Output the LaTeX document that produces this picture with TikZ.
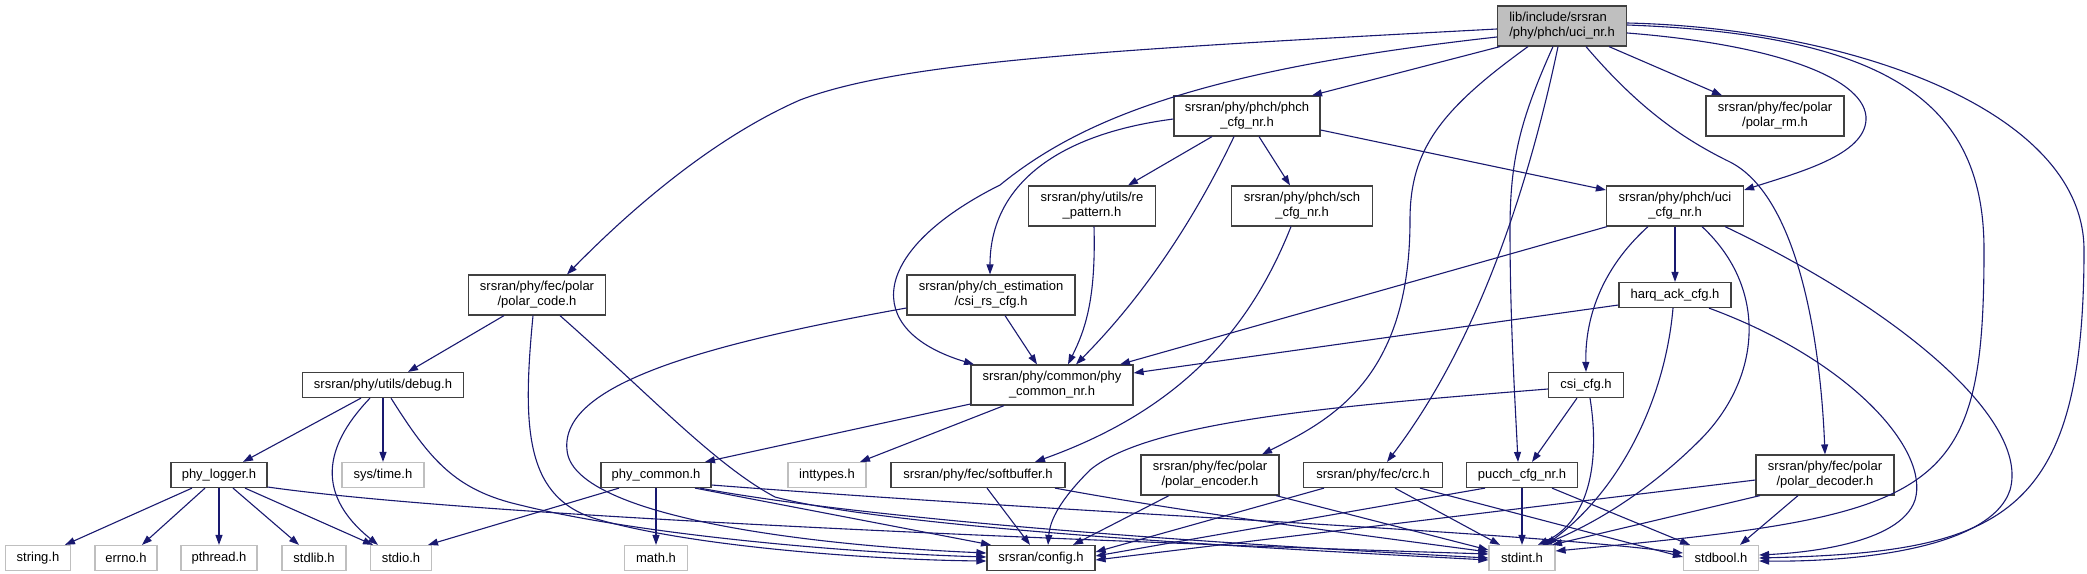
\documentclass[tikz,border=0pt]{standalone}
\usepackage{fontspec}
\setmainfont{Liberation Sans}
\usetikzlibrary{arrows.meta}
\definecolor{edgec}{HTML}{191970}
\definecolor{boxc}{HTML}{404040}
\definecolor{sysc}{HTML}{BFBFBF}
\definecolor{rootfill}{HTML}{BFBFBF}
\begin{document}
\begin{tikzpicture}[x=1pt,y=-1pt,
  every node/.style={font=\fontsize{13}{15}\selectfont, inner sep=0pt, align=center},
  hdr/.style={draw=boxc, line width=1.2pt, fill=white, minimum height=25pt},
  hdr2/.style={hdr, minimum height=40pt},
  sys/.style={draw=sysc, line width=1.2pt, fill=white, minimum height=25pt},
  root/.style={hdr2, fill=rootfill, align=left},
  dep/.style={draw=edgec, line width=1.1pt, -{Triangle[length=10pt,width=7pt]}}
]
\useasboundingbox (0,0) rectangle (2087,573);
\fill[white] (0,0) rectangle (2087,573);

% nodes
\node[root, minimum width=129pt] (uci) at (1562,26) {lib/include/srsran\\/phy/phch/uci\_nr.h};
\node[hdr2, minimum width=146pt] (phch) at (1247,116) {srsran/phy/phch/phch\\\_cfg\_nr.h};
\node[hdr2, minimum width=138pt] (prm) at (1775,116) {srsran/phy/fec/polar\\/polar\_rm.h};
\node[hdr2, minimum width=127pt] (re) at (1092,206) {srsran/phy/utils/re\\\_pattern.h};
\node[hdr2, minimum width=141pt] (sch) at (1302,206) {srsran/phy/phch/sch\\\_cfg\_nr.h};
\node[hdr2, minimum width=137pt] (ucicfg) at (1675,206) {srsran/phy/phch/uci\\\_cfg\_nr.h};
\node[hdr2, minimum width=137pt] (pcode) at (537,295) {srsran/phy/fec/polar\\/polar\_code.h};
\node[hdr2, minimum width=168pt] (csirs) at (991,295) {srsran/phy/ch\_estimation\\/csi\_rs\_cfg.h};
\node[hdr, minimum width=112pt] (harq) at (1675,295) {harq\_ack\_cfg.h};
\node[hdr2, minimum width=162pt] (pcnr) at (1052,385) {srsran/phy/common/phy\\\_common\_nr.h};
\node[hdr, minimum width=161pt] (debug) at (383,385) {srsran/phy/utils/debug.h};
\node[hdr, minimum width=75pt] (csicfg) at (1586,385) {csi\_cfg.h};
\node[hdr, minimum width=96pt] (logger) at (219,475) {phy\_logger.h};
\node[sys, minimum width=82pt] (systime) at (383,475) {sys/time.h};
\node[hdr, minimum width=110pt] (pcom) at (656,475) {phy\_common.h};
\node[sys, minimum width=78pt] (inttypes) at (827,475) {inttypes.h};
\node[hdr, minimum width=174pt] (softbuf) at (978,475) {srsran/phy/fec/softbuffer.h};
\node[hdr2, minimum width=138pt] (penc) at (1210,475) {srsran/phy/fec/polar\\/polar\_encoder.h};
\node[hdr, minimum width=139pt] (crc) at (1373,475) {srsran/phy/fec/crc.h};
\node[hdr, minimum width=111pt] (pucch) at (1522,475) {pucch\_cfg\_nr.h};
\node[hdr2, minimum width=138pt] (pdec) at (1825,475) {srsran/phy/fec/polar\\/polar\_decoder.h};
\node[sys, minimum width=65pt] (stringh) at (38,558) {string.h};
\node[sys, minimum width=62pt] (errnoh) at (126,558) {errno.h};
\node[sys, minimum width=76pt] (pthreadh) at (219,558) {pthread.h};
\node[sys, minimum width=64pt] (stdlibh) at (314,558) {stdlib.h};
\node[sys, minimum width=61pt] (stdio) at (401,558) {stdio.h};
\node[sys, minimum width=63pt] (mathh) at (656,558) {math.h};
\node[hdr, minimum width=108pt] (config) at (1041,558) {srsran/config.h};
\node[sys, minimum width=66pt] (stdint) at (1522,558) {stdint.h};
\node[sys, minimum width=75pt] (stdbool) at (1721,558) {stdbool.h};

% uci_nr.h
\draw[dep] ([xshift=-62]uci.south) -- ([xshift=65]phch.north);
\draw[dep] ([yshift=-3]uci.west) .. controls (1100,50) and (900,62) .. (800,100) .. controls (720,135) and (640,200) .. ([xshift=30]pcode.north);
\draw[dep] ([yshift=-11]uci.west) .. controls (1200,70) and (1080,120) .. (1000,185) .. controls (870,250) and (860,330) .. ([xshift=-78]pcnr.north);
\draw[dep] ([xshift=47]uci.south) -- ([xshift=-53]prm.north);
\draw[dep] ([yshift=-7]uci.east) .. controls (1780,45) and (1868,80) .. (1866,120) .. controls (1864,155) and (1800,172) .. ([yshift=16]ucicfg.east);
\draw[dep] ([xshift=24]uci.south) .. controls (1640,110) and (1685,140) .. (1730,162) .. controls (1795,195) and (1820,330) .. (pdec.north);
\draw[dep] ([xshift=-34]uci.south) .. controls (1440,110) and (1410,150) .. (1410,220) .. controls (1410,380) and (1330,420) .. ([xshift=52]penc.north);
\draw[dep] ([xshift=-9]uci.south) .. controls (1520,120) and (1510,160) .. (1510,230) .. controls (1510,320) and (1515,400) .. ([xshift=-4]pucch.north);
\draw[dep] ([xshift=-4]uci.south) .. controls (1530,180) and (1480,340) .. ([xshift=14]crc.north);
\draw[dep] ([yshift=1]uci.east) .. controls (1900,35) and (1984,110) .. (1984,250) .. controls (1984,500) and (1940,515) .. ([yshift=7]stdint.east);
\draw[dep] ([yshift=3]uci.east) .. controls (1850,28) and (2084,110) .. (2084,250) .. controls (2084,520) and (2000,552) .. (stdbool.east);

% phch_cfg_nr.h
\draw[dep] ([xshift=-35]phch.south) -- ([xshift=36]re.north);
\draw[dep] ([xshift=12]phch.south) -- ([xshift=-12]sch.north);
\draw[dep] ([yshift=-3]phch.west) .. controls (1050,135) and (990,190) .. ([xshift=-1]csirs.north);
\draw[dep] ([xshift=-13]phch.south) .. controls (1180,250) and (1120,320) .. ([xshift=24]pcnr.north);
\draw[dep] ([yshift=-14]phch.east) -- ([yshift=16]ucicfg.west);

% re_pattern.h, sch_cfg_nr.h
\draw[dep] ([xshift=2]re.south) .. controls (1096,300) and (1085,330) .. ([xshift=16]pcnr.north);
\draw[dep] ([xshift=-11]sch.south) .. controls (1250,330) and (1180,410) .. ([xshift=57]softbuf.north);

% csi_rs_cfg.h
\draw[dep] ([xshift=14]csirs.south) -- ([xshift=-15]pcnr.north);
\draw[dep] ([yshift=-13]csirs.west) .. controls (700,345) and (560,385) .. (567,450) .. controls (572,515) and (800,545) .. ([yshift=5]config.west);

% polar_code.h
\draw[dep] ([xshift=-33]pcode.south) -- ([xshift=25]debug.north);
\draw[dep] ([xshift=-4]pcode.south) .. controls (522,430) and (525,500) .. (600,520) .. controls (700,548) and (880,560) .. ([yshift=-3]config.west);
\draw[dep] ([xshift=23]pcode.south) .. controls (650,395) and (715,465) .. (775,497) .. controls (900,530) and (1300,550) .. ([yshift=-2]stdint.west);

% debug.h
\draw[dep] ([xshift=-22]debug.south) -- ([xshift=24]logger.north);
\draw[dep] (debug.south) -- (systime.north);
\draw[dep] ([xshift=-13]debug.south) .. controls (330,440) and (310,490) .. ([xshift=-23]stdio.north);
\draw[dep] ([xshift=8]debug.south) .. controls (430,460) and (455,490) .. (520,505) .. controls (640,535) and (850,553) .. ([yshift=1]config.west);

% phy_logger.h
\draw[dep] ([xshift=-27]logger.south) -- ([xshift=27]stringh.north);
\draw[dep] ([xshift=-14]logger.south) -- ([xshift=16]errnoh.north);
\draw[dep] (logger.south) -- (pthreadh.north);
\draw[dep] ([xshift=14]logger.south) -- ([xshift=-15]stdlibh.north);
\draw[dep] ([xshift=26]logger.south) -- ([xshift=-28]stdio.north);
\draw[dep] ([yshift=-12]logger.east) .. controls (500,520) and (1200,545) .. ([yshift=4]stdint.west);

% phy_common_nr.h
\draw[dep] ([yshift=-19]pcnr.west) -- ([xshift=49]pcom.north);
\draw[dep] ([xshift=-48]pcnr.south) -- ([xshift=33]inttypes.north);

% phy_common.h
\draw[dep] ([xshift=-37]pcom.south) -- ([xshift=27]stdio.north);
\draw[dep] (pcom.south) -- (mathh.north);
\draw[dep] ([xshift=39]pcom.south) -- ([xshift=-50]config.north);
\draw[dep] ([xshift=44]pcom.south) .. controls (900,525) and (1300,548) .. (stdint.west);
\draw[dep] ([yshift=-10]pcom.east) .. controls (1100,515) and (1500,530) .. ([yshift=5]stdbool.west);

% softbuffer.h
\draw[dep] ([xshift=9]softbuf.south) -- ([xshift=-11]config.north);
\draw[dep] ([xshift=77]softbuf.south) .. controls (1200,515) and (1400,540) .. ([yshift=6]stdint.west);

% polar_encoder.h
\draw[dep] ([xshift=-41]penc.south) -- ([xshift=32]config.north);
\draw[dep] ([xshift=66]penc.south) -- ([yshift=8]stdint.west);

% crc.h
\draw[dep] ([xshift=-49]crc.south) -- ([yshift=6]config.east);
\draw[dep] ([xshift=22]crc.south) -- ([xshift=-22]stdint.north);
\draw[dep] ([xshift=47]crc.south) -- ([yshift=1]stdbool.west);

% pucch_cfg_nr.h
\draw[dep] ([xshift=-37]pucch.south) -- ([yshift=2]config.east);
\draw[dep] (pucch.south) -- (stdint.north);
\draw[dep] ([xshift=30]pucch.south) -- ([xshift=-31]stdbool.north);

% polar_decoder.h
\draw[dep] ([yshift=-5]pdec.west) -- ([yshift=-2]config.east);
\draw[dep] ([xshift=-65]pdec.south) -- ([xshift=30]stdint.north);
\draw[dep] ([xshift=-27]pdec.south) -- ([xshift=19]stdbool.north);

% uci_cfg_nr.h
\draw[dep] ([xshift=-68]ucicfg.south) -- ([xshift=68]pcnr.north);
\draw[dep] (ucicfg.south) -- (harq.north);
\draw[dep] ([xshift=-27]ucicfg.south) .. controls (1600,270) and (1585,320) .. (csicfg.north);
\draw[dep] ([xshift=27]ucicfg.south) .. controls (1770,290) and (1760,380) .. (1700,440) .. controls (1640,500) and (1580,530) .. ([xshift=20]stdint.north);
\draw[dep] ([xshift=50]ucicfg.south) .. controls (1900,310) and (2030,420) .. (2010,490) .. controls (1990,550) and (1850,562) .. ([yshift=-3]stdbool.east);

% harq_ack_cfg.h
\draw[dep] ([yshift=-10]harq.west) -- ([yshift=12]pcnr.east);
\draw[dep] ([xshift=-2]harq.south) .. controls (1665,400) and (1620,490) .. ([xshift=24]stdint.north);
\draw[dep] ([xshift=34]harq.south) .. controls (1850,360) and (1930,450) .. (1915,500) .. controls (1900,545) and (1800,553) .. ([yshift=3]stdbool.east);

% csi_cfg.h
\draw[dep] ([yshift=-4]csicfg.west) .. controls (1350,405) and (1150,420) .. (1090,470) .. controls (1060,500) and (1050,520) .. ([xshift=7]config.north);
\draw[dep] ([xshift=-9]csicfg.south) -- ([xshift=10]pucch.north);
\draw[dep] ([xshift=4]csicfg.south) .. controls (1600,460) and (1590,520) .. ([xshift=16]stdint.north);
\end{tikzpicture}
\end{document}
